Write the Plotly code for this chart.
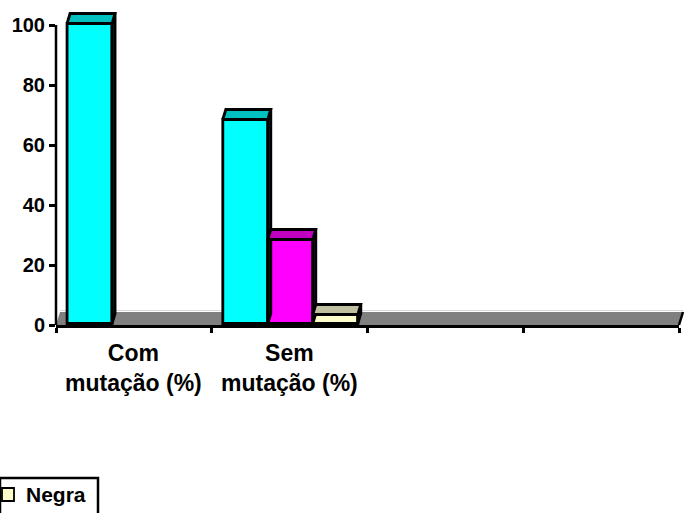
import plotly.graph_objects as go

# --- data ---------------------------------------------------------------
categories = ["Com<br>mutação (%)", "Sem<br>mutação (%)", "", ""]
series_names = ["Branca", "Parda", "Negra"]
values_branca = [100, 68, None, None]
values_parda = [None, 28, None, None]
values_negra = [None, 3, None, None]
y_ticks = [0, 20, 40, 60, 80, 100]

series_values = [values_branca, values_parda, values_negra]
front_colors = ["#00FFFF", "#FF00FF", "#FFFFCC"]
top_colors = ["#00C0C0", "#C000C0", "#C0C0A0"]
side_colors = ["#007F7F", "#7F007F", "#7F7F66"]

FONT = "Liberation Sans, Arial, sans-serif"
EDGE = 2.8

# --- geometry of the pseudo-3D projection --------------------------------
L, R, T, B = 56, 679, 10, 325          # plot area in pixels
n_cat = len(categories)
y_max = 105
ux = (R - L) / n_cat                   # pixels per x unit
uy = (B - T) / y_max                   # pixels per y unit
bar_w = 45 / ux                        # width of each column
first_off = -0.429                     # offset of first column from category centre
bar_base = 0.5                         # columns stand slightly behind the front edge
dx_top = 3 / ux                        # depth of a column (x direction)
dy_top = 10 / uy                       # depth of a column (y direction)
dx_floor = 4 / ux
dy_floor = 13 / uy
centres = [i + 0.5 for i in range(n_cat)]

fig = go.Figure()

# front faces of the columns
for i, (name, vals) in enumerate(zip(series_names, series_values)):
    fig.add_trace(go.Bar(
        x=centres, y=vals, base=bar_base, name=name,
        offset=first_off + i * bar_w, width=bar_w,
        marker=dict(color=front_colors[i], line=dict(color="black", width=EDGE)),
        showlegend=False, cliponaxis=False,
    ))

# side and top faces
for i, vals in enumerate(series_values):
    for c, v in zip(centres, vals):
        if v is None:
            continue
        x0 = c + first_off + i * bar_w
        x1 = x0 + bar_w
        top = bar_base + v
        fig.add_trace(go.Scatter(
            x=[x1, x1, x1 + dx_top, x1 + dx_top, x1],
            y=[bar_base, top, top + dy_top, bar_base + dy_top, bar_base],
            mode="lines", fill="toself", fillcolor=side_colors[i],
            line=dict(color="black", width=EDGE), showlegend=False, hoverinfo="skip",
        ))
        fig.add_trace(go.Scatter(
            x=[x0, x1, x1 + dx_top, x0 + dx_top, x0],
            y=[top, top, top + dy_top, top + dy_top, top],
            mode="lines", fill="toself", fillcolor=top_colors[i],
            line=dict(color="black", width=EDGE), showlegend=False, hoverinfo="skip",
        ))


def px_x(px):
    return (px - L) / (R - L)


def px_y(py):
    return (B - py) / (B - T)


shapes = []
# grey floor (paper coordinates so the slanted end is not clipped)
fx = lambda xd: xd / n_cat
fy = lambda yd: yd / y_max
shapes.append(dict(
    type="path", xref="paper", yref="paper", layer="below",
    path=(f"M {fx(0)},{fy(0)} L {fx(n_cat)},{fy(0)} "
          f"L {fx(n_cat + dx_floor)},{fy(dy_floor)} L {fx(dx_floor)},{fy(dy_floor)} Z"),
    fillcolor="#808080", line=dict(width=0),
))
# pale back edge of the floor
shapes.append(dict(
    type="line", xref="paper", yref="paper", layer="below",
    x0=fx(dx_floor), x1=fx(n_cat + dx_floor), y0=fy(dy_floor + 0.5), y1=fy(dy_floor + 0.5),
    line=dict(color="#D8D8D8", width=1),
))
# right slanted edge of the floor
shapes.append(dict(
    type="line", xref="paper", yref="paper",
    x0=fx(n_cat), y0=fy(0), x1=fx(n_cat + dx_floor), y1=fy(dy_floor),
    line=dict(color="black", width=2.5),
))
# value axis line from 0 to 100
shapes.append(dict(
    type="line", xref="paper", yref="paper",
    x0=0, x1=0, y0=fy(0), y1=fy(y_ticks[-1]),
    line=dict(color="black", width=2.5),
))

# legend box (continues below the visible page)
shapes.append(dict(
    type="rect", xref="paper", yref="paper",
    x0=px_x(0), x1=px_x(98), y0=px_y(478), y1=px_y(560),
    line=dict(color="black", width=2.5), fillcolor="white",
))
shapes.append(dict(
    type="rect", xref="paper", yref="paper",
    x0=px_x(2), x1=px_x(14), y0=px_y(488), y1=px_y(501),
    line=dict(color="black", width=1.8), fillcolor=front_colors[2],
))

annotations = []
for c, label in zip(centres, categories):
    if not label:
        continue
    annotations.append(dict(
        x=c, xref="x", y=0, yref="paper", yanchor="top", yshift=-13,
        text=label, showarrow=False,
        font=dict(family=FONT, size=23, color="black", weight="bold"),
    ))
annotations.append(dict(
    x=px_x(24), xref="paper", y=px_y(495), yref="paper",
    xanchor="left", yanchor="middle", text=series_names[2], showarrow=False,
    font=dict(family=FONT, size=21, color="black", weight="bold"),
))

fig.update_layout(
    width=692, height=513,
    margin=dict(l=L, r=692 - R, t=T, b=513 - B),
    paper_bgcolor="white", plot_bgcolor="white",
    barmode="overlay", showlegend=False,
    shapes=shapes, annotations=annotations,
    xaxis=dict(
        range=[0, n_cat], tickvals=list(range(n_cat + 1)), ticktext=[""] * (n_cat + 1),
        showgrid=False, zeroline=False, showline=True, linecolor="black", linewidth=2.5,
        ticks="outside", ticklen=5, tickwidth=2.5, tickcolor="black", fixedrange=True,
    ),
    yaxis=dict(
        range=[0, y_max], tickvals=y_ticks, showgrid=False, zeroline=False, showline=False,
        ticks="outside", ticklen=6, tickwidth=2.5, tickcolor="black", ticklabelstandoff=0,
        tickfont=dict(family=FONT, size=20, color="black", weight="bold"),
        fixedrange=True,
    ),
)

fig.write_html("out.html")
